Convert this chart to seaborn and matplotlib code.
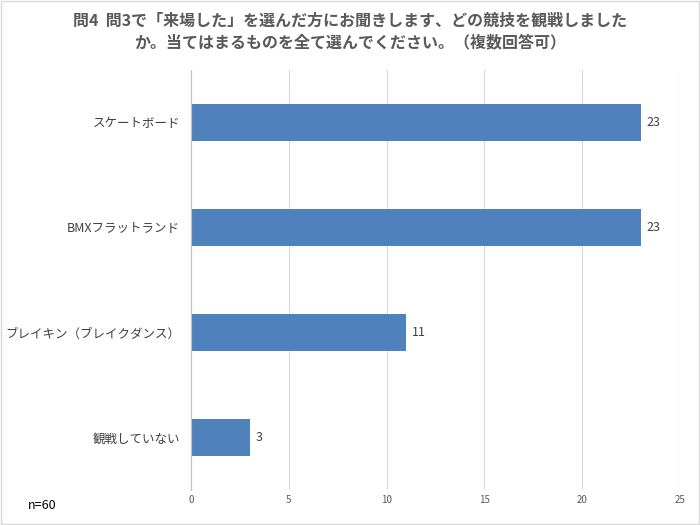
import matplotlib
matplotlib.use("Agg")
import matplotlib.pyplot as plt
import seaborn as sns
import pandas as pd

plt.rcParams["font.family"] = "Noto Sans CJK JP"

categories = ["スケートボード", "BMXフラットランド", "ブレイキン（ブレイクダンス）", "観戦していない"]
counts = [23, 23, 11, 3]
title = "問4  問3で「来場した」を選んだ方にお聞きします、どの競技を観戦しました\nか。当てはまるものを全て選んでください。（複数回答可）"

df = pd.DataFrame({"cat": categories, "n": counts})

fig = plt.figure(figsize=(7, 5.25), dpi=100)
ax = fig.add_axes([0.273, 0.067, 0.698, 0.80])
sns.barplot(data=df, x="n", y="cat", color="#4F81BD", width=0.35, saturation=1, ax=ax)

ax.set_xlim(0, 25)
ax.set_xticks(range(0, 26, 5))
ax.grid(axis="x", color="#D9D9D9", linewidth=0.8)
ax.set_axisbelow(True)
for s in ["top", "right", "bottom"]:
    ax.spines[s].set_visible(False)
ax.spines["left"].set_color("#BFBFBF")
ax.tick_params(axis="x", length=0, labelsize=7, labelcolor="#595959")
ax.tick_params(axis="y", length=0, labelsize=9, labelcolor="#404040", pad=8)
ax.set_xlabel("")
ax.set_ylabel("")
for i, v in enumerate(counts):
    ax.text(v + 0.3, i, str(v), va="center", ha="left", fontsize=9, color="#404040")

fig.text(0.5, 0.975, title, ha="center", va="top", fontsize=11.5, fontweight="bold",
         color="#595959", linespacing=1.4)
fig.text(0.04, 0.03, "n=60", fontsize=9, color="#000000")
fig.patches.append(plt.Rectangle((0.001, 0.001), 0.998, 0.998, transform=fig.transFigure,
                                 fill=False, edgecolor="#D9D9D9", linewidth=1))
fig.savefig("out.png", dpi=100)
